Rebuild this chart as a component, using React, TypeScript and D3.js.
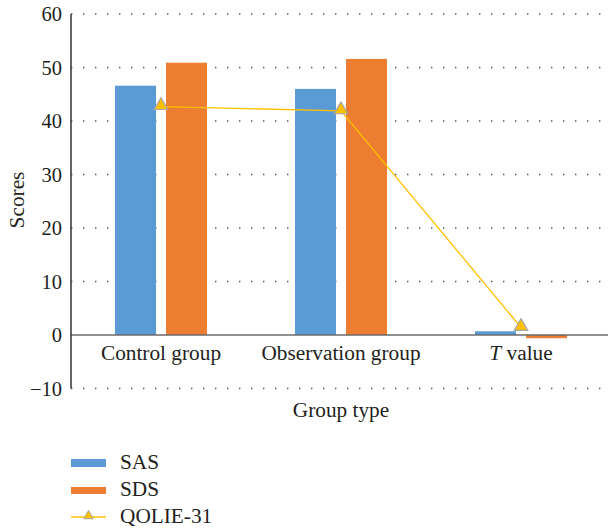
import * as d3 from "d3";

const categories = ["Control group", "Observation group", "T value"];
const sasValues = [46.6, 46.0, 0.7];
const sdsValues = [50.9, 51.6, -0.6];
const qolieValues = [42.7, 41.9, 1.4];
const yTicks = [-10, 0, 10, 20, 30, 40, 50, 60];

const width = 608;
const height = 532;
const margin = { top: 14, right: -3, bottom: 143, left: 71 };
const font = "Liberation Serif, DejaVu Serif, serif";
const fs = 21.3;
const tickFs = 20.5;

export default function App() {
  const x = d3
    .scaleBand()
    .domain(categories)
    .range([margin.left, width - margin.right])
    .padding(0);

  const y = d3
    .scaleLinear()
    .domain([-10, 60])
    .range([height - margin.bottom - 0.5, margin.top]);

  const barW = 41;
  const gap = 10;

  const line = d3
    .line<number>()
    .x((_, i) => x(categories[i])! + x.bandwidth() / 2)
    .y((d) => y(d));

  const tri = d3.symbol(d3.symbolTriangle, 80)()!;

  return (
    <svg
      width={width}
      height={height}
      style={{ position: "absolute", left: 0, top: 0, background: "#fff", fontFamily: font }}
    >
      {/* grid */}
      {yTicks
        .filter((t) => t !== 0)
        .map((t) => (
          <line
            key={t}
            x1={margin.left}
            x2={602}
            y1={y(t)}
            y2={y(t)}
            stroke="#555"
            strokeWidth={1.4}
            strokeDasharray="1.4 10.6"
          />
        ))}

      {/* bars */}
      {categories.map((c, i) => {
        const cx = x(c)! + x.bandwidth() / 2;
        return (
          <g key={c}>
            <rect
              x={cx - gap / 2 - barW}
              width={barW}
              y={Math.min(y(sasValues[i]), y(0))}
              height={Math.abs(y(sasValues[i]) - y(0))}
              fill="#5B9BD5"
            />
            <rect
              x={cx + gap / 2}
              width={barW}
              y={Math.min(y(sdsValues[i]), y(0))}
              height={Math.abs(y(sdsValues[i]) - y(0))}
              fill="#ED7D31"
            />
          </g>
        );
      })}

      {/* zero line */}
      <line
        x1={margin.left}
        x2={width}
        y1={y(0)}
        y2={y(0)}
        stroke="#6b6b6b"
        strokeWidth={1.5}
      />

      {/* y axis */}
      <line
        x1={margin.left}
        x2={margin.left}
        y1={y(60)}
        y2={y(-10)}
        stroke="#333"
        strokeWidth={1.5}
      />
      {yTicks.map((t) => (
        <text
          key={t}
          x={62}
          y={y(t)}
          dy="0.35em"
          textAnchor="end"
          fontSize={tickFs}
          fill="#231f20"
        >
          {t < 0 ? `\u2212${Math.abs(t)}` : t}
        </text>
      ))}

      {/* category labels */}
      {categories.map((c) => (
        <text
          key={c}
          x={x(c)! + x.bandwidth() / 2}
          y={360}
          textAnchor="middle"
          fontSize={fs}
          fill="#231f20"
        >
          {c === "T value" ? (
            <>
              <tspan fontStyle="italic">T</tspan> value
            </>
          ) : (
            c
          )}
        </text>
      ))}

      {/* QOLIE line */}
      <path d={line(qolieValues)!} fill="none" stroke="#FFC000" strokeWidth={1.3} />
      {qolieValues.map((v, i) => (
        <path
          key={i}
          d={tri}
          transform={`translate(${x(categories[i])! + x.bandwidth() / 2},${y(v) - 1})`}
          fill="#FFC000"
          stroke="#a6a6a6"
          strokeWidth={1.2}
        />
      ))}

      {/* axis titles */}
      <text
        transform={`translate(24,200) rotate(-90)`}
        textAnchor="middle"
        fontSize={fs}
        fill="#231f20"
      >
        Scores
      </text>
      <text x={341} y={417} textAnchor="middle" fontSize={fs} fill="#231f20">
        Group type
      </text>

      {/* legend */}
      <rect x={71} y={459} width={35} height={8} fill="#5B9BD5" />
      <text x={120} y={469} fontSize={fs} fill="#231f20">
        SAS
      </text>
      <rect x={71} y={487} width={35} height={7} fill="#ED7D31" />
      <text x={120} y={496} fontSize={fs} fill="#231f20">
        SDS
      </text>
      <line x1={71} x2={106} y1={517} y2={517} stroke="#FFC000" strokeWidth={1.3} />
      <path
        d={d3.symbol(d3.symbolTriangle, 40)()!}
        transform="translate(88.5,516)"
        fill="#FFC000"
        stroke="#a6a6a6"
        strokeWidth={1}
      />
      <text x={120} y={523} fontSize={fs} fill="#231f20">
        QOLIE-31
      </text>
    </svg>
  );
}
